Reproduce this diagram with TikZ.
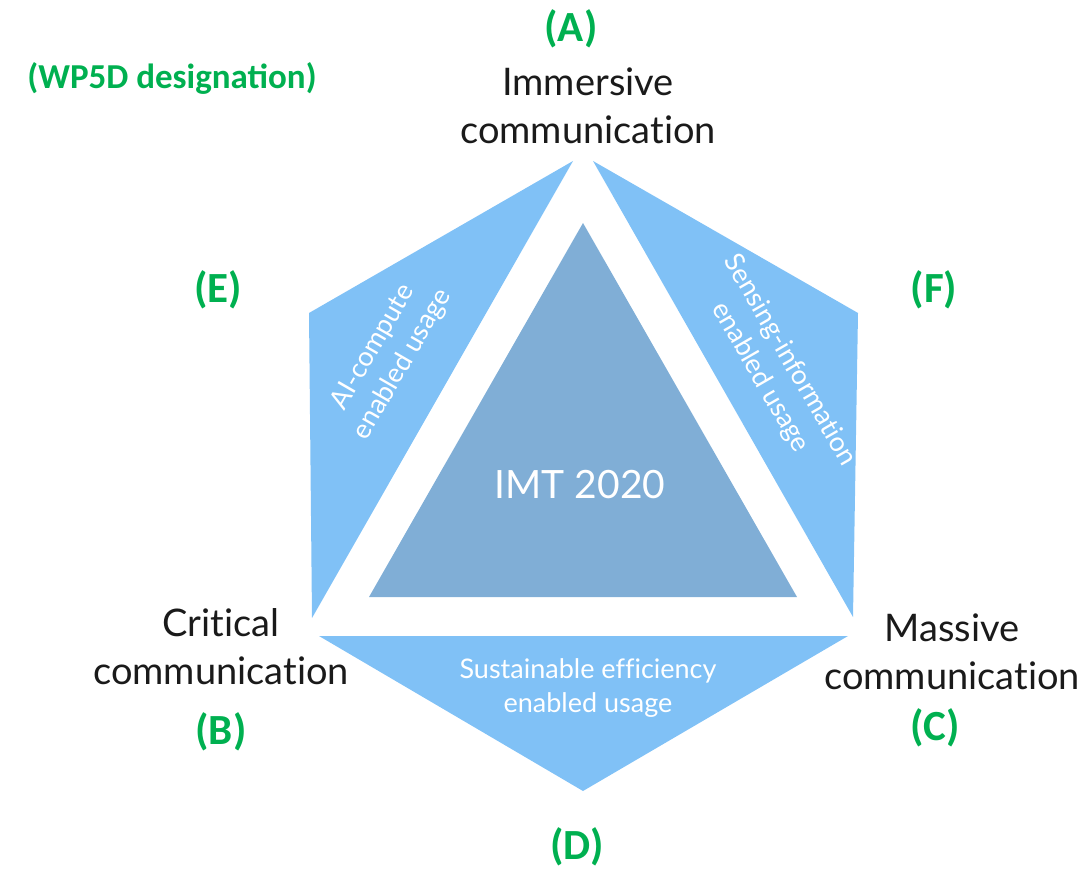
\documentclass[tikz,border=0pt]{standalone}
\usepackage{fontspec}
\setmainfont{Lato}[Ligatures={NoCommon,NoRare,NoContextual,NoRequired},Contextuals=NoAlternate]
\newfontfamily\greenfont{Carlito}
\definecolor{pieceblue}{RGB}{128,193,246}
\definecolor{innerblue}{RGB}{128,174,214}
\definecolor{desgreen}{RGB}{0,176,80}
\definecolor{labelblack}{RGB}{26,26,26}
\tikzset{
  piece/.style={fill=pieceblue, draw=none},
  core/.style={fill=innerblue, draw=none},
  usagelabel/.style={text=white, align=center, inner sep=0pt, font=\fontsize{27}{34}\selectfont},
  commlabel/.style={text=labelblack, align=center, inner sep=0pt, font=\fontsize{38}{48}\selectfont},
  desig/.style={text=desgreen, inner sep=0pt, font=\greenfont\bfseries\fontsize{43}{50}\selectfont},
}
\begin{document}
\begin{tikzpicture}[x=1pt,y=-1pt]
\path[use as bounding box] (0,0) rectangle (1087,869);
% coordinates of the pieces
\coordinate (E1) at (573,161);
\coordinate (E2) at (309,313);
\coordinate (E3) at (312,618);
\coordinate (F1) at (593,161);
\coordinate (F2) at (858,313);
\coordinate (F3) at (853,617);
\coordinate (D1) at (319,636);
\coordinate (D2) at (848,636);
\coordinate (D3) at (583,791);
\coordinate (I1) at (583,223);
\coordinate (I2) at (369,597);
\coordinate (I3) at (797,597);
% shapes
\fill[piece] (E1) -- (E2) -- (E3) -- cycle;
\fill[piece] (F1) -- (F2) -- (F3) -- cycle;
\fill[piece] (D1) -- (D2) -- (D3) -- cycle;
\fill[core] (I1) -- (I2) -- (I3) -- cycle;
% texts in shapes
\node[text=white, inner sep=0pt, font=\fontsize{39}{46}\selectfont] (imt) at (580,485) {IMT 2020};
\node[usagelabel, rotate=60] (ai) at (388,356) {AI-compute\\enabled usage};
\node[usagelabel, rotate=-60] (sens) at (775,369) {Sensing-information\\enabled usage};
\node[usagelabel] (sust) at (588,688) {Sustainable efficiency\\enabled usage};
% communication labels
\node[commlabel] (immersive) at (588,106) {Immersive\\communication};
\node[commlabel] (critical) at (221,647) {Critical\\communication};
\node[commlabel] (massive) at (952,652) {Massive\\communication};
% designations
\node[desig] (A) at (571,29) {(A)};
\node[desig] (B) at (221,732) {(B)};
\node[desig] (C) at (935,728) {(C)};
\node[desig] (D) at (577,847) {(D)};
\node[desig] (E) at (218,290) {(E)};
\node[desig] (F) at (934,290) {(F)};
\node[text=desgreen, inner sep=0pt, font=\greenfont\bfseries\fontsize{35}{42}\selectfont] (wp5d) at (172,78) {(WP5D designation)};
\end{tikzpicture}
\end{document}
